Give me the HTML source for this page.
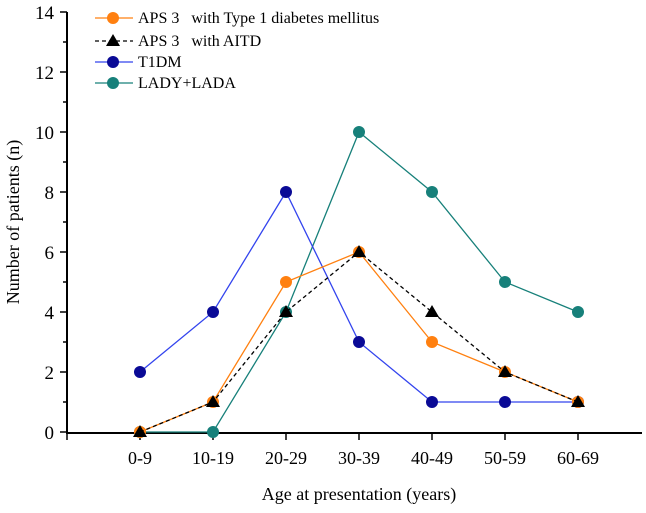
<!DOCTYPE html>
<html><head><meta charset="utf-8"><style>
body{margin:0;background:#fff}
svg text{font-family:"Liberation Serif","Times New Roman","Tinos","DejaVu Serif",serif;fill:#000;white-space:pre}
</style></head><body>
<svg id="chart" width="646" height="508" viewBox="0 0 646 508" xmlns="http://www.w3.org/2000/svg">
<g id="axes"></g><g id="series"></g><g id="legend"></g>
<text x="359" y="500" font-size="18" text-anchor="middle">Age at presentation (years)</text>
<text transform="translate(19,222) rotate(-90)" font-size="18" text-anchor="middle">Number of patients (n)</text>
</svg>
<script>
const categories=["0-9","10-19","20-29","30-39","40-49","50-59","60-69"];
const apsT1dm=[0,1,5,6,3,2,1];
const apsAitd=[0,1,4,6,4,2,1];
const t1dm=[2,4,8,3,1,1,1];
const ladyLada=[0,0,4,10,8,5,4];
const yTicks=[0,2,4,6,8,10,12,14];
const NS="http://www.w3.org/2000/svg";
const x=i=>140+i*73;
const y=v=>432-v*30;
function mk(tag,attrs,parent){const e=document.createElementNS(NS,tag);for(const k in attrs)e.setAttribute(k,attrs[k]);parent.appendChild(e);return e;}
const axes=document.getElementById('axes');
let a=mk('line',{x1:67,y1:y(14),x2:67,y2:433,stroke:'#000','stroke-width':2},axes);


a=mk('line',{x1:66,y1:433,x2:642,y2:433,stroke:'#000','stroke-width':2},axes);


for(let v=0;v<=14;v++){const major=v%2===0;mk('line',{x1:major?60:63,y1:y(v),x2:67,y2:y(v),stroke:'#000','stroke-width':1.5},axes);}
yTicks.forEach(v=>{const t=mk('text',{x:54,y:y(v)+7,'font-size':19,'text-anchor':'end'},axes);t.textContent=v;

});
for(let i=-1;i<categories.length;i++){mk('line',{x1:x(i),y1:433,x2:x(i),y2:440,stroke:'#000','stroke-width':1.5},axes);}
categories.forEach((c,i)=>{const t=mk('text',{x:x(i),y:464,'font-size':18,'text-anchor':'middle'},axes);t.textContent=c;

});
const seriesG=document.getElementById('series');
const specs=[
 {d:ladyLada,color:'#17807a',line:'#17807a',dash:null,m:'circle',name:'series-lady-lada',label:'LADY+LADA'},
 {d:t1dm,color:'#0a0a96',line:'#3344ee',dash:null,m:'circle',name:'series-t1dm',label:'T1DM'},
 {d:apsT1dm,color:'#ff8010',line:'#ff8010',dash:null,m:'circle',name:'series-aps3-t1dm',label:'APS 3   with Type 1 diabetes mellitus'},
 {d:apsAitd,color:'#000',line:'#000',dash:'4,3',m:'tri',name:'series-aps3-aitd',label:'APS 3   with AITD'}];
function marker(m,cx,cy,color,parent){
 if(m==='circle')return mk('circle',{cx:cx,cy:cy,r:6,fill:color},parent);
 return mk('polygon',{points:`${cx},${cy-7} ${cx-7},${cy+5} ${cx+7},${cy+5}`,fill:color},parent);}
specs.forEach(s=>{const g=mk('g',{},seriesG);
 
 
 const p=mk('polyline',{points:s.d.map((v,i)=>x(i)+','+y(v)).join(' '),fill:'none',stroke:s.line,'stroke-width':1.3},g);
 if(s.dash)p.setAttribute('stroke-dasharray',s.dash);
 s.d.forEach((v,i)=>{const mm=marker(s.m,x(i),y(v),s.color,g);
 
 });});
const lg=document.getElementById('legend');
const order=[2,3,1,0];const ly=[18,41,62,83];
order.forEach((si,k)=>{const s=specs[si];const g=mk('g',{},lg);
 
 
 const l=mk('line',{x1:95,y1:ly[k],x2:133,y2:ly[k],stroke:s.line,'stroke-width':1.3},g);
 if(s.dash)l.setAttribute('stroke-dasharray',s.dash);
 marker(s.m,113,ly[k],s.color,g);
 const t=mk('text',{x:138,y:ly[k]+5,'font-size':16},g);
 t.textContent=s.label;});
</script>
</body></html>
